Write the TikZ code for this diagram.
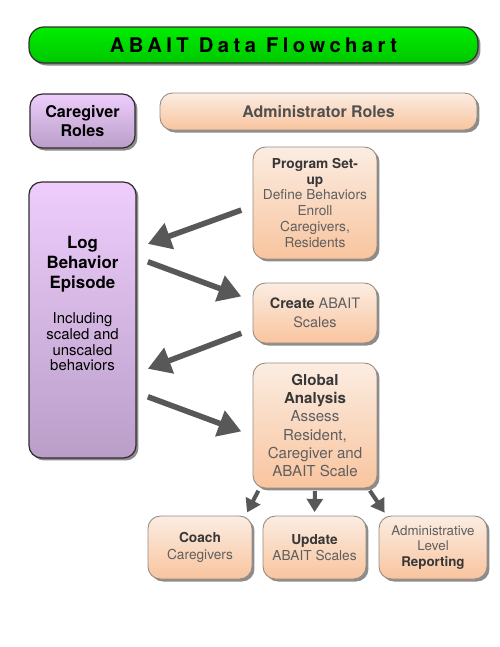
\documentclass[tikz,border=0pt]{standalone}
\usepackage{fontspec}
\setmainfont{TeX Gyre Heros}
\usepackage{tikz}
\usepackage{xcolor}
\usetikzlibrary{shadows}
\usetikzlibrary{calc}
\usetikzlibrary{positioning, arrows.meta}

\definecolor{greentop}{RGB}{0,238,0}
\definecolor{greenbot}{RGB}{0,198,0}
\definecolor{purpletop}{RGB}{238,205,252}
\definecolor{purplebot}{RGB}{186,158,200}
\definecolor{orangetop}{RGB}{251,237,226}
\definecolor{orangebot}{RGB}{249,196,158}
\definecolor{orangeedge}{RGB}{150,140,130}
\definecolor{darkedge}{RGB}{50,45,50}
\definecolor{arrowgray}{RGB}{88,88,88}
\definecolor{headtext}{RGB}{55,55,55}
\definecolor{roletext}{RGB}{80,80,80}
\definecolor{bodytext}{RGB}{95,95,95}

\newcommand{\hd}[1]{\textbf{\textcolor{headtext}{#1}}}

\begin{document}
\begin{tikzpicture}[x=0.02cm, y=-0.02cm,
    boxshadow/.style={drop shadow={shadow xshift=0.05cm, shadow yshift=-0.05cm, opacity=0.45, fill=black}},
    greenbox/.style={draw=darkedge, line width=0.7pt, rounded corners=0.3cm, top color=greentop, bottom color=greenbot, boxshadow},
    purplebox/.style={draw=darkedge, line width=0.7pt, rounded corners=0.25cm, top color=purpletop, bottom color=purplebot, boxshadow, align=center},
    orangebox/.style={draw=orangeedge, line width=0.5pt, rounded corners=0.25cm, top color=orangetop, bottom color=orangebot, boxshadow, align=center, text=bodytext, inner sep=0pt},
    bigarrow/.style={draw=arrowgray, line width=3.2pt, -{Triangle[length=13pt,width=15pt]}, shorten <=0.24cm, shorten >=0.24cm},
    smallarrow/.style={draw=arrowgray, line width=2.3pt, -{Triangle[length=7.5pt,width=9pt]}, shorten <=1.5pt, shorten >=2pt}]
    \useasboundingbox (0,0) rectangle (500,647);

    % Title bar
    \node[greenbox, minimum width=8.98cm, minimum height=0.72cm] (title) at (253.5,45) {\fontsize{11.5}{13}\selectfont\bfseries\addfontfeatures{LetterSpace=22}ABAIT Data Flowchart};

    % Role headers
    \node[purplebox, minimum width=2.1cm, minimum height=1.08cm, font=\fontsize{9.2}{10.8}\selectfont\bfseries] (cgroles) at (82.5,121) {Caregiver\\Roles};
    \node[orangebox, minimum width=6.34cm, minimum height=0.74cm, font=\fontsize{9.1}{11}\selectfont\bfseries, text=roletext] (adroles) at (318.5,111.5) {Administrator Roles};

    % Caregiver column
    \node[purplebox, minimum width=2.14cm, minimum height=5.52cm] (log) at (82.5,320) {};
    \node[font=\fontsize{9.6}{11.4}\selectfont\bfseries, align=center] (logtitle) at (82.5,264) {Log\\Behavior\\Episode};
    \node[font=\fontsize{8.5}{8.9}\selectfont, align=center] (lognote) at (82.5,342) {Including\\scaled and\\unscaled\\behaviors};

    % Administrator column
    \node[orangebox, minimum width=2.48cm, minimum height=2.24cm, font=\fontsize{7.8}{9.1}\selectfont] (setup) at (315,203) {\hd{Program Set-}\\\hd{up}\\Define Behaviors\\Enroll\\Caregivers,\\Residents};
    \node[orangebox, minimum width=2.48cm, minimum height=1.2cm, font=\fontsize{8.2}{10.8}\selectfont] (create) at (315,313) {\hd{Create} ABAIT\\Scales};
    \node[orangebox, minimum width=2.48cm, minimum height=2.5cm, font=\fontsize{8.6}{10.3}\selectfont] (global) at (315,425.5) {\hd{Global}\\\hd{Analysis}\\Assess\\Resident,\\Caregiver and\\ABAIT Scale};

    % Outcome boxes
    \node[orangebox, minimum width=2.08cm, minimum height=1.26cm, font=\fontsize{7.8}{9.7}\selectfont] (coach) at (200,547.5) {\hd{Coach}\\Caregivers};
    \node[orangebox, minimum width=2.06cm, minimum height=1.26cm, font=\fontsize{7.8}{9.2}\selectfont] (update) at (314.5,547.5) {\hd{Update}\\ABAIT Scales};
    \node[orangebox, minimum width=2.16cm, minimum height=1.26cm, font=\fontsize{7.6}{8.6}\selectfont] (admin) at (433,547.5) {Administrative\\Level\\\hd{Reporting}};

    % Flow between the two columns
    \draw[bigarrow] (setup.west |- 0,206) -- (log.east |- 0,248);
    \draw[bigarrow] (log.east |- 0,257.6) -- (create.west |- 0,300.6);
    \draw[bigarrow] (create.west |- 0,329) -- (log.east |- 0,373);
    \draw[bigarrow] (log.east |- 0,392.6) -- (global.west |- 0,435.6);

    % Analysis results
    \draw[smallarrow] ([xshift=0.14cm]global.south west) -- ([xshift=-0.14cm]coach.north east);
    \draw[smallarrow] (global.south) -- (update.north);
    \draw[smallarrow] ([xshift=-0.18cm]global.south east) -- ([xshift=0.16cm]admin.north west);
\end{tikzpicture}
\end{document}
